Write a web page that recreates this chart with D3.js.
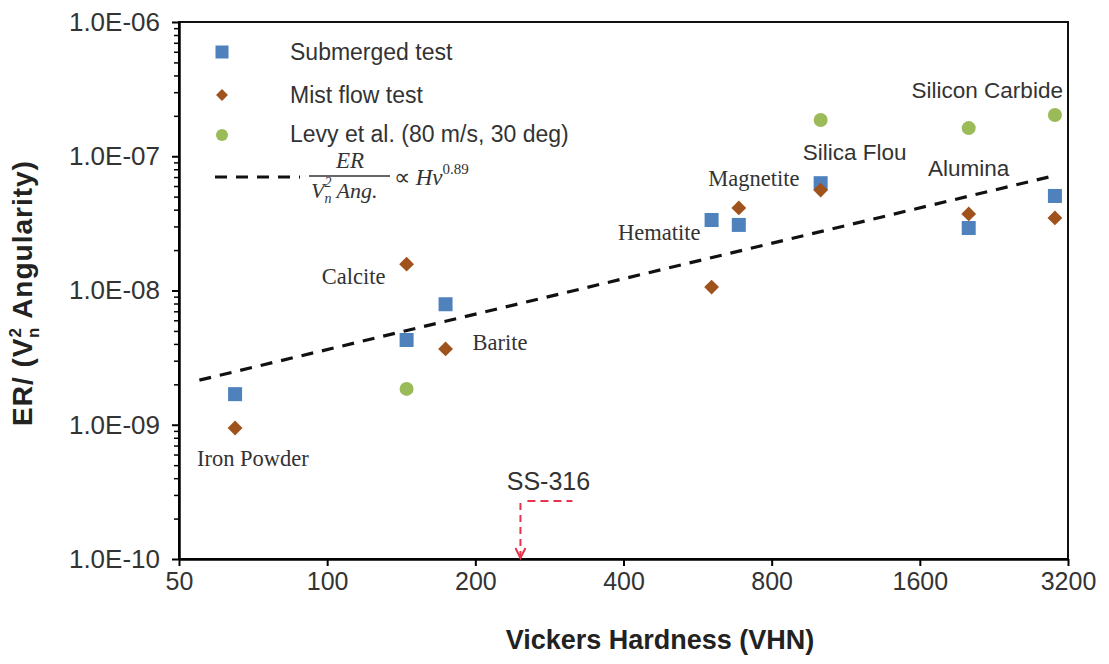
<!DOCTYPE html>
<html>
<head>
<meta charset="utf-8">
<script src="https://cdn.jsdelivr.net/npm/d3@7"></script>
<style>
  body { margin: 0; background: #fff; }
  svg { font-family: "Liberation Sans", Arial, sans-serif; }
</style>
</head>
<body>
<script>
// data
const hardness = [65, 145, 174, 604, 686, 1006, 2011, 3010];
const submerged = [1.69e-9, 4.28e-9, 7.9e-9, 3.35e-8, 3.08e-8, 6.3e-8, 2.92e-8, 5.06e-8];
const mistFlow = [9.46e-10, 1.57e-8, 3.67e-9, 1.06e-8, 4.12e-8, 5.6e-8, 3.72e-8, 3.47e-8];
const levyHv = [145, 1006, 2011, 3010];
const levy = [1.85e-9, 1.86e-7, 1.62e-7, 2.03e-7];
const trendHv = [55, 2925];
const trendER = [2.15e-9, 7.0e-8];
const ss316Hv = 247;
const xTicks = [50, 100, 200, 400, 800, 1600, 3200];
const yMajor = [1e-10, 1e-9, 1e-8, 1e-7, 1e-6];
const mineralLabels = [
  { name: 'Iron Powder', hv: 50, er: 4.93e-10, serif: true, anchor: 'start', dx: 18 },
  { name: 'Calcite', hv: 145, er: 1.12e-8, serif: true, anchor: 'end', dx: -21 },
  { name: 'Barite', hv: 174, er: 3.6e-9, serif: true, anchor: 'start', dx: 27 },
  { name: 'Hematite', hv: 604, er: 2.38e-8, serif: true, anchor: 'end', dx: -11 },
  { name: 'Magnetite', hv: 686, er: 6.0e-8, serif: true, anchor: 'middle', dx: 15 },
  { name: 'Silica Flou', hv: 1006, er: 9.37e-8, serif: false, anchor: 'start', dx: -18 },
  { name: 'Alumina', hv: 2011, er: 7.13e-8, serif: false, anchor: 'middle', dx: 0 },
  { name: 'Silicon Carbide', hv: 3010, er: 2.72e-7, serif: false, anchor: 'end', dx: 8 }
];

const W = 1109, H = 664;
const pLeft = 179, pRight = 1068, pTop = 22, pBottom = 559;
const sans = '"Liberation Sans", Arial, sans-serif';
const serif = '"Liberation Serif", "Times New Roman", serif';

const svg = d3.select('body').append('svg')
  .attr('width', W).attr('height', H);

const x = d3.scaleLog().base(2).domain([50, 3200]).range([pLeft, pRight]);
const y = d3.scaleLog().domain([1e-10, 1e-6]).range([pBottom, pTop]);

// minor ticks for the log axis
const yMinor = [];
yMajor.slice(0, -1).forEach(d => {
  for (let k = 2; k <= 9; k++) yMinor.push(d * k);
});

// frame
svg.append('rect')
  .attr('x', pLeft).attr('y', pTop)
  .attr('width', pRight - pLeft).attr('height', pBottom - pTop)
  .attr('fill', 'none').attr('stroke', '#111').attr('stroke-width', 2);

// axes
const xAxis = d3.axisBottom(x).tickValues(xTicks).tickFormat(d3.format('d'))
  .tickSizeInner(7).tickSizeOuter(0).tickPadding(6);
const gx = svg.append('g')
  .attr('transform', 'translate(0,' + pBottom + ')')
  .call(xAxis);
gx.select('.domain').attr('stroke-width', 2.5);
gx.selectAll('line').attr('stroke-width', 2);
gx.selectAll('text').attr('font-size', 25).attr('fill', '#333').attr('font-family', sans);

const yAxis = d3.axisLeft(y).tickValues(yMajor)
  .tickFormat(d => '1.0E-' + String(-Math.round(Math.log10(d))).padStart(2, '0'))
  .tickSizeInner(7).tickSizeOuter(0).tickPadding(12);
const gy = svg.append('g')
  .attr('transform', 'translate(' + pLeft + ',0)')
  .call(yAxis);
gy.select('.domain').attr('stroke-width', 2.5);
gy.selectAll('line').attr('stroke-width', 2);
gy.selectAll('text').attr('font-size', 26).attr('fill', '#333').attr('font-family', sans);

const yAxisMinor = d3.axisLeft(y).tickValues(yMinor).tickFormat('')
  .tickSizeInner(5).tickSizeOuter(0);
svg.append('g')
  .attr('transform', 'translate(' + pLeft + ',0)')
  .call(yAxisMinor)
  .call(g => g.select('.domain').remove())
  .selectAll('line').attr('stroke-width', 1.5);

// axis titles
svg.append('text')
  .attr('x', 660).attr('y', 649)
  .attr('text-anchor', 'middle')
  .attr('font-size', 27).attr('font-weight', 'bold').attr('fill', '#222')
  .text('Vickers Hardness (VHN)');

const yt = svg.append('text')
  .attr('transform', 'translate(32,' + 293 + ') rotate(-90)')
  .attr('text-anchor', 'middle')
  .attr('font-size', 28).attr('font-weight', 'bold').attr('fill', '#222')
  .attr('letter-spacing', 1);
yt.append('tspan').text('ER/ (V');
yt.append('tspan').attr('font-size', 17).attr('dy', -11).text('2');
yt.append('tspan').attr('font-size', 17).attr('dx', -11).attr('dy', 18).text('n');
yt.append('tspan').attr('dy', -7).text(' Angularity)');

// trend line
const line = d3.line().x(d => x(d[0])).y(d => y(d[1]));
svg.append('path')
  .datum(d3.zip(trendHv, trendER))
  .attr('d', line)
  .attr('fill', 'none').attr('stroke', '#111')
  .attr('stroke-width', 3.2).attr('stroke-dasharray', '12,9');

// series
const blue = '#4f81bd', brown = '#a0521d', green = '#9bbb59';

svg.append('g').selectAll('rect')
  .data(d3.zip(hardness, submerged))
  .join('rect')
  .attr('x', d => x(d[0]) - 7).attr('y', d => y(d[1]) - 7)
  .attr('width', 14).attr('height', 14)
  .attr('fill', blue);

const diamond = d3.symbol().type(d3.symbolDiamond2).size(140);
svg.append('g').selectAll('path')
  .data(d3.zip(hardness, mistFlow))
  .join('path')
  .attr('transform', d => 'translate(' + x(d[0]) + ',' + y(d[1]) + ')')
  .attr('d', diamond)
  .attr('fill', brown);

svg.append('g').selectAll('circle')
  .data(d3.zip(levyHv, levy))
  .join('circle')
  .attr('cx', d => x(d[0])).attr('cy', d => y(d[1]))
  .attr('r', 7)
  .attr('fill', green);

// mineral labels
svg.append('g').selectAll('text')
  .data(mineralLabels)
  .join('text')
  .attr('x', d => x(d.hv) + d.dx).attr('y', d => y(d.er))
  .attr('text-anchor', d => d.anchor)
  .attr('font-family', d => d.serif ? serif : sans)
  .attr('font-size', d => d.serif ? 22.5 : 22.5)
  .attr('fill', '#333')
  .text(d => d.name);

// SS-316 marker
const red = '#e8334a';
const sx = x(ss316Hv);
svg.append('line')
  .attr('x1', sx).attr('x2', sx).attr('y1', 503).attr('y2', pBottom - 2)
  .attr('stroke', red).attr('stroke-width', 2).attr('stroke-dasharray', '7,5');
svg.append('line')
  .attr('x1', sx + 7).attr('x2', sx + 52).attr('y1', 501).attr('y2', 501)
  .attr('stroke', red).attr('stroke-width', 2).attr('stroke-dasharray', '8,5');
svg.append('path')
  .attr('d', 'M' + (sx - 5) + ',' + (pBottom - 11) + ' L' + sx + ',' + (pBottom - 1) + ' L' + (sx + 5) + ',' + (pBottom - 11))
  .attr('fill', 'none').attr('stroke', red).attr('stroke-width', 2);
svg.append('text')
  .attr('x', sx + 28).attr('y', 490)
  .attr('text-anchor', 'middle').attr('font-size', 25).attr('fill', '#333')
  .text('SS-316');

// legend
const lg = svg.append('g');
const lx = 222, tx = 290;
lg.append('rect').attr('x', lx - 6.5).attr('y', 52 - 6.5).attr('width', 13).attr('height', 13).attr('fill', blue);
lg.append('path').attr('transform', 'translate(' + lx + ',95)').attr('d', d3.symbol().type(d3.symbolDiamond2).size(90)).attr('fill', brown);
lg.append('circle').attr('cx', lx).attr('cy', 135).attr('r', 6).attr('fill', green);
[['Submerged test', 52], ['Mist flow test', 95], ['Levy et al. (80 m/s, 30 deg)', 134]].forEach(([t, ty]) => {
  lg.append('text').attr('x', tx).attr('y', ty).attr('dy', '0.35em')
    .attr('font-size', 23).attr('fill', '#333').text(t);
});
lg.append('line')
  .attr('x1', 215).attr('x2', 300).attr('y1', 177).attr('y2', 177)
  .attr('stroke', '#111').attr('stroke-width', 3.2).attr('stroke-dasharray', '12,9');

// legend formula ER / (Vn^2 Ang.) ∝ Hv^0.89
lg.append('text').attr('x', 350).attr('y', 168).attr('text-anchor', 'middle')
  .attr('font-family', serif).attr('font-style', 'italic').attr('font-size', 23).attr('fill', '#333')
  .text('ER');
lg.append('line').attr('x1', 309).attr('x2', 390).attr('y1', 176).attr('y2', 176)
  .attr('stroke', '#333').attr('stroke-width', 1.3);
const den = lg.append('text').attr('x', 311).attr('y', 198)
  .attr('font-family', serif).attr('font-style', 'italic').attr('font-size', 22).attr('fill', '#333');
den.append('tspan').text('V');
den.append('tspan').attr('font-size', 14).attr('dy', 5).text('n');
den.append('tspan').attr('font-size', 14).attr('dx', -7).attr('dy', -16).text('2');
den.append('tspan').attr('dy', 11).text(' Ang.');
const rhs = lg.append('text').attr('x', 394).attr('y', 185)
  .attr('font-family', serif).attr('font-size', 23).attr('fill', '#333');
rhs.append('tspan').text('\u221D ');
rhs.append('tspan').attr('font-style', 'italic').text('Hv');
rhs.append('tspan').attr('font-size', 15).attr('dy', -11).text('0.89');
</script>
</body>
</html>
